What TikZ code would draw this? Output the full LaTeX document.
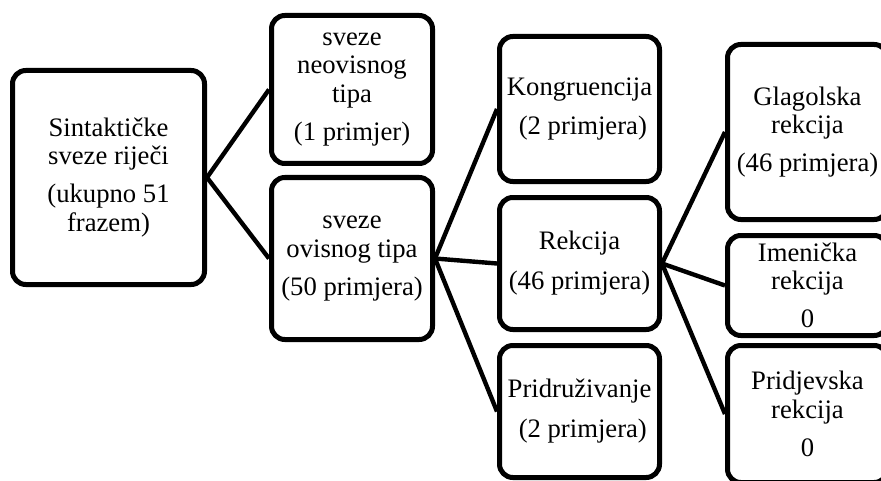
\documentclass[tikz,border=0pt]{standalone}
\usepackage{fontspec}
\setmainfont{Liberation Serif}
\tikzset{
	box/.style={draw, line width=3.75pt, rounded corners=10pt, align=center,
		inner sep=0pt, font=\fontsize{20}{21.5}\selectfont},
	link/.style={line width=3.3pt}
}
\begin{document}
\begin{tikzpicture}[x=0.75pt,y=-0.75pt]

	% page
	\useasboundingbox (0,0) rectangle (881,481);
	\clip (0,0) rectangle (881,481);

	% root
	\node[box, minimum width=144pt, minimum height=160.5pt] (root) at (108.5,177.5)
		{Sintaktičke\\sveze riječi\\[7pt](ukupno 51\\frazem)};

	% first level
	\node[box, minimum width=120.75pt, minimum height=111pt] (neovisne) at (352,89.5)
		{sveze\\neovisnog\\tipa\\[7pt](1 primjer)};
	\node[box, minimum width=120.75pt, minimum height=121.5pt] (ovisne) at (352,258.5)
		{sveze\\ovisnog tipa\\[7pt](50 primjera)};

	% second level
	\node[box, minimum width=120pt, minimum height=108.75pt] (kongr) at (579.5,109)
		{Kongruencija\\[8pt]\ (2 primjera)};
	\node[box, minimum width=120pt, minimum height=99pt] (rekcija) at (579.5,263.5)
		{Rekcija\\[8.5pt](46 primjera)};
	\node[box, minimum width=120pt, minimum height=99pt] (pridr) at (579.5,411.5)
		{Pridruživanje\\[8.5pt]\ (2 primjera)};

	% third level
	\node[box, minimum width=120pt, minimum height=131.25pt] (glag) at (807.5,132)
		{Glagolska\\rekcija\\[7pt](46 primjera)};
	\node[box, minimum width=120pt, minimum height=75pt] (imen) at (807.5,285.5)
		{Imenička\\rekcija\\[7pt]0};
	\node[box, minimum width=120pt, minimum height=102.75pt] (pridj) at (807.5,414)
		{Pridjevska\\rekcija\\[7pt]0};

	% connectors
	\draw[link] (root.east) -- (neovisne.west);
	\draw[link] (root.east) -- (ovisne.west);
	\draw[link] (ovisne.east) -- (kongr.west);
	\draw[link] (ovisne.east) -- (rekcija.west);
	\draw[link] (ovisne.east) -- (pridr.west);
	\draw[link] (rekcija.east) -- (glag.west);
	\draw[link] (rekcija.east) -- (imen.west);
	\draw[link] (rekcija.east) -- (pridj.west);

\end{tikzpicture}
\end{document}
